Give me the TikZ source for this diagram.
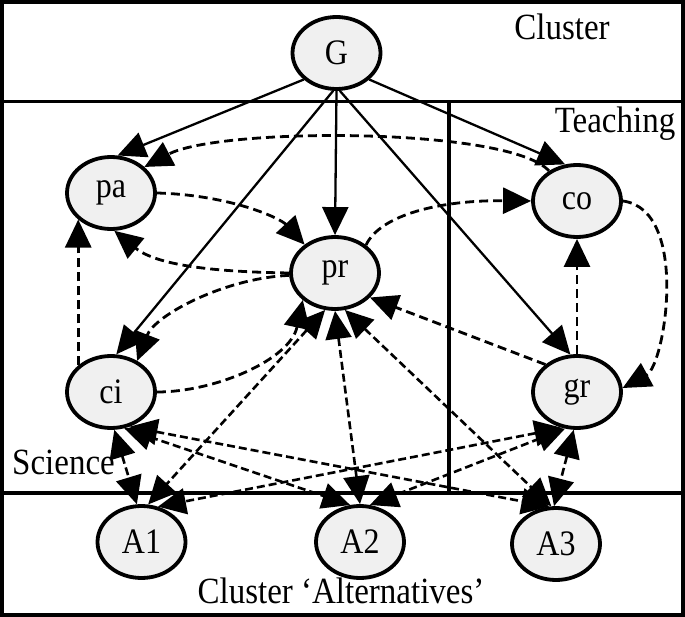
\documentclass[tikz,border=0pt]{standalone}
\usepackage{fontspec}
\setmainfont{Liberation Serif}
\usetikzlibrary{arrows.meta,shapes.geometric}
\definecolor{ndfill}{RGB}{240,240,240}
\newcommand{\tallTxt}[1]{\scalebox{1}[1.12]{#1}}
\begin{document}
\begin{tikzpicture}[x=1pt,y=-1pt,
  nd/.style={ellipse, draw, line width=3.8pt, fill=ndfill, minimum width=88pt, minimum height=72pt, inner sep=0pt, font=\fontsize{32}{32}\selectfont},
  lbl/.style={font=\fontsize{33}{33}\selectfont, inner sep=0pt, anchor=base},
  boxline/.style={line width=3.6pt},
  tipA/.tip={Triangle[length=28pt 0 0, width=26pt 0 0]},
  solidarr/.style={-tipA, line width=2.3pt},
  dasharr/.style={-tipA, line width=2.8pt, dash pattern=on 9pt off 5pt},
  biarr/.style={tipA-tipA, line width=2.6pt, dash pattern=on 8pt off 4pt}]
\useasboundingbox (0,0) rectangle (685,617);
% boxes
\draw[boxline] (1.8,1.8) rectangle (683.2,615.2);
\draw[boxline] (0,101.5) -- (685,101.5);
\draw[boxline] (0,493) -- (685,493);
\draw[boxline] (449,101.5) -- (449,493);
% labels
\node[lbl] (lcl) at (562,40) {\tallTxt{Cluster}};
\node[lbl] (lte) at (615,133) {\tallTxt{Teaching}};
\node[lbl, anchor=base west] (lsc) at (12,474) {\tallTxt{Science}};
\node[lbl] (lal) at (341,603) {\tallTxt{Cluster ‘Alternatives’}};
% nodes
\node[nd] (G) at (336.5,53) {\tallTxt{G}};
\node[nd] (pa) at (111,193) {\tallTxt{pa}};
\node[nd] (co) at (577,201) {\tallTxt{co}};
\node[nd] (pr) at (335,273) {\tallTxt{pr}};
\node[nd] (ci) at (111,392) {\tallTxt{ci}};
\node[nd] (gr) at (577,392) {\tallTxt{gr}};
\node[nd] (A1) at (141.5,542) {\tallTxt{A1}};
\node[nd] (A2) at (360,542) {\tallTxt{A2}};
\node[nd] (A3) at (556,544) {\tallTxt{A3}};
% solid from G
\draw[solidarr] (G.219) -- (pa.80);
\draw[solidarr] (G.south) -- (pr.north);
\draw[solidarr] (G.265) -- (ci.82);
\draw[solidarr] (G.275) -- (gr.100);
\draw[solidarr] (G.321) -- (co.108);
% dashed
\draw[dasharr] (co.133) .. controls (510,127) and (220,127) .. (pa.38);
\draw[dasharr] (pa.0) .. controls (230,195) and (280,218) .. (pr.137);
\draw[dasharr] (pr.42) .. controls (380,215) and (440,200) .. (co.180);
\draw[dasharr] (pr.180) .. controls (230,272) and (160,268) .. (pa.-85);
\draw[dasharr] (pr.183) .. controls (225,278) and (155,315) .. (ci.50);
\draw[dasharr] (ci.0) .. controls (215,392) and (290,360) .. (pr.220);
\draw[dasharr] (ci.141) -- (pa.219);
\draw[dasharr] (gr.north) -- (co.south);
\draw[dasharr] (co.0) .. controls (690,210) and (665,365) .. (gr.5);
\draw[dasharr] (gr.139) -- (pr.325);
% bidirectional to alternatives
\draw[biarr] (ci.-85) -- (A1.97);
\draw[biarr] (ci.-70) -- (A2.105);
\draw[biarr] (ci.-62) -- (A3.100);
\draw[biarr] (pr.-105) -- (A1.80);
\draw[biarr] (pr.-90) -- (A2.90);
\draw[biarr] (pr.-75) -- (A3.97);
\draw[biarr] (gr.-112) -- (A1.65);
\draw[biarr] (gr.-108) -- (A2.75);
\draw[biarr] (gr.-95) -- (A3.93);
\end{tikzpicture}
\end{document}
